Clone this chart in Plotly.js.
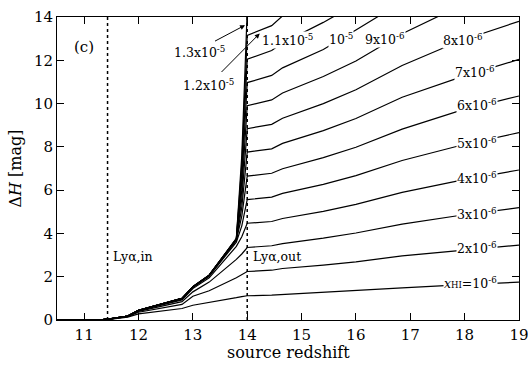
<!DOCTYPE html>
<html><head><meta charset="utf-8">
<script src="https://cdn.plot.ly/plotly-3.0.1.min.js"></script>
<style>html,body{margin:0;padding:0;background:#fff}#chart{width:528px;height:368px}</style>
</head><body><div id="chart"></div>
<script>
// source redshift grid
const redshift = [10.5, 11.25, 11.5, 11.8, 12.0, 12.8, 13.0, 13.3, 13.8, 13.9, 14.0, 14.45, 14.65, 15.4, 16.0, 16.85, 17.9, 19.0];
// Delta H [mag] for each neutral fraction x_HI
const dH_1e6   = [0, 0, 0.04, 0.13, 0.28, 0.53, 0.68, 0.80, 1.03, 1.08, 1.12, 1.15, 1.18, 1.27, 1.36, 1.48, 1.62, 1.75];
const dH_2e6   = [0, 0, 0.05, 0.15, 0.36, 0.72, 1.10, 1.35, 1.95, 2.10, 2.24, 2.30, 2.38, 2.54, 2.69, 2.96, 3.22, 3.46];
const dH_3e6   = [0, 0, 0.05, 0.16, 0.40, 0.85, 1.30, 1.75, 2.80, 3.05, 3.35, 3.43, 3.53, 3.78, 4.02, 4.43, 4.83, 5.19];
const dH_4e6   = [0, 0, 0.05, 0.17, 0.42, 0.93, 1.45, 1.95, 3.40, 3.85, 4.47, 4.55, 4.69, 5.02, 5.34, 5.90, 6.44, 6.93];
const dH_5e6   = [0, 0, 0.06, 0.18, 0.44, 0.97, 1.50, 2.02, 3.60, 4.35, 5.56, 5.68, 5.85, 6.27, 6.67, 7.37, 8.05, 8.66];
const dH_6e6   = [0, 0, 0.06, 0.18, 0.45, 0.99, 1.52, 2.05, 3.68, 4.80, 6.65, 6.78, 6.99, 7.50, 7.98, 8.82, 9.66, 10.35];
const dH_7e6   = [0, 0, 0.06, 0.18, 0.45, 1.00, 1.53, 2.06, 3.70, 5.20, 7.76, 7.91, 8.16, 8.75, 9.31, 10.29, 11.20, 12.04];
const dH_8e6   = [0, 0, 0.06, 0.18, 0.45, 1.00, 1.53, 2.06, 3.72, 5.60, 8.84, 9.04, 9.32, 10.00, 10.64, 11.76, 12.88, 13.80];
const dH_9e6   = [0, 0, 0.06, 0.18, 0.45, 1.00, 1.54, 2.07, 3.73, 6.00, 9.90, 10.17, 10.49, 11.25, 11.97, 13.23, 14.49, 15.60];
const dH_10e6  = [0, 0, 0.06, 0.18, 0.45, 1.00, 1.54, 2.07, 3.74, 6.40, 10.97, 11.30, 11.65, 12.50, 13.40, 14.70, 16.10, 17.30];
const dH_11e6  = [0, 0, 0.06, 0.18, 0.45, 1.00, 1.54, 2.07, 3.75, 6.80, 12.05, 12.45, 12.80, 13.75, 14.60, 16.20, 17.70, 19.00];
const dH_12e6  = [0, 0, 0.06, 0.18, 0.45, 1.00, 1.54, 2.07, 3.76, 7.20, 13.15, 13.60, 14.05, 15.00, 15.90, 17.60, 19.30, 20.80];
const dH_13e6  = [0, 0, 0.06, 0.18, 0.45, 1.00, 1.54, 2.07, 3.77, 7.60, 14.30, 14.70, 15.10, 16.20, 17.20, 19.10, 20.90, 22.50];
const allSeries = [dH_1e6, dH_2e6, dH_3e6, dH_4e6, dH_5e6, dH_6e6, dH_7e6, dH_8e6, dH_9e6, dH_10e6, dH_11e6, dH_12e6, dH_13e6];
// Lyman-alpha markers (redshift)
const lyaNames = ['Lyα,in', 'Lyα,out'];
const lyaZ = [11.43, 14.0];
// axis ticks
const xTicks = [11, 12, 13, 14, 15, 16, 17, 18, 19];
const yTicks = [0, 2, 4, 6, 8, 10, 12, 14];

const traces = allSeries.map(s => ({
  x: redshift, y: s, type: 'scatter', mode: 'lines',
  line: {color: '#000', width: 1.2}, hoverinfo: 'skip'
}));
lyaZ.forEach(z => traces.push({
  x: [z, z], y: [0, 14], type: 'scatter', mode: 'lines',
  line: {color: '#000', width: 1.5, dash: 'dot'}, hoverinfo: 'skip'
}));

const F = 'DejaVu Serif, Liberation Serif, serif';
const lab = (text, x, y, extra) => Object.assign({
  text, x, y, xref: 'x', yref: 'y', showarrow: false,
  font: {family: F, size: 12.5, color: '#000'}, bgcolor: '#fff', borderpad: 0
}, extra || {});

const annotations = [
  lab('(c)', 11.0, 12.62, {font: {family: F, size: 15, color: '#000'}, bgcolor: 'rgba(0,0,0,0)'}),
  lab('1.3x10<sup>-5</sup>', 13.12, 12.4, {bgcolor: 'rgba(0,0,0,0)'}),
  lab('1.2x10<sup>-5</sup>', 13.28, 10.85, {bgcolor: 'rgba(0,0,0,0)'}),
  lab('1.1x10<sup>-5</sup>', 14.74, 12.95),
  lab('10<sup>-5</sup>', 15.72, 12.98),
  lab('9x10<sup>-6</sup>', 16.53, 12.98),
  lab('8x10<sup>-6</sup>', 17.97, 12.92),
  lab('7x10<sup>-6</sup>', 18.19, 11.45),
  lab('6x10<sup>-6</sup>', 18.22, 9.95),
  lab('5x10<sup>-6</sup>', 18.22, 8.18),
  lab('4x10<sup>-6</sup>', 18.22, 6.56),
  lab('3x10<sup>-6</sup>', 18.22, 4.9),
  lab('2x10<sup>-6</sup>', 18.22, 3.33),
  lab('<i>x</i><span style="font-size:8.5px">HI</span>=10<sup>-6</sup>', 18.1, 1.7),
  lab(lyaNames[0], lyaZ[0] + 0.08, 2.92, {xanchor: 'left', bgcolor: 'rgba(0,0,0,0)'}),
  lab(lyaNames[1], lyaZ[1] + 0.08, 2.92, {xanchor: 'left', bgcolor: 'rgba(0,0,0,0)'}),
  {x: 13.96, y: 13.62, ax: 13.38, ay: 12.85, xref: 'x', yref: 'y', axref: 'x', ayref: 'y',
   text: '', showarrow: true, arrowhead: 2, arrowsize: 1, arrowwidth: 1, arrowcolor: '#000'},
  {x: 14.23, y: 13.24, ax: 13.5, ay: 11.39, xref: 'x', yref: 'y', axref: 'x', ayref: 'y',
   text: '', showarrow: true, arrowhead: 2, arrowsize: 1, arrowwidth: 1, arrowcolor: '#000'},
  {text: 'source redshift', xref: 'paper', yref: 'paper', x: 0.5, y: -0.108, yanchor: 'middle',
   showarrow: false, font: {family: F, size: 16, color: '#000'}}
];

const axisCommon = {
  showline: true, linecolor: '#000', linewidth: 1, mirror: 'ticks',
  ticks: 'inside', ticklen: 7, tickcolor: '#000', tickwidth: 1,
  showgrid: false, zeroline: false,
  tickfont: {family: F, size: 15, color: '#000'}
};

const layout = {
  width: 528, height: 368,
  margin: {l: 57, r: 9, t: 17, b: 48},
  paper_bgcolor: '#fff', plot_bgcolor: '#fff',
  showlegend: false, hovermode: false,
  xaxis: Object.assign({}, axisCommon, {
    range: [10.5, 19.0005], tickvals: xTicks, ticktext: xTicks.map(String),
    ticklabelstandoff: 1, ticklabeloverflow: 'allow'
  }),
  yaxis: Object.assign({}, axisCommon, {
    range: [0, 14], tickvals: yTicks, ticktext: yTicks.map(String),
    title: {text: 'Δ<i>H</i> [mag]', font: {family: F, size: 16, color: '#000'}, standoff: 8}
  }),
  annotations
};

Plotly.newPlot('chart', traces, layout, {staticPlot: true, displayModeBar: false});
</script></body></html>
